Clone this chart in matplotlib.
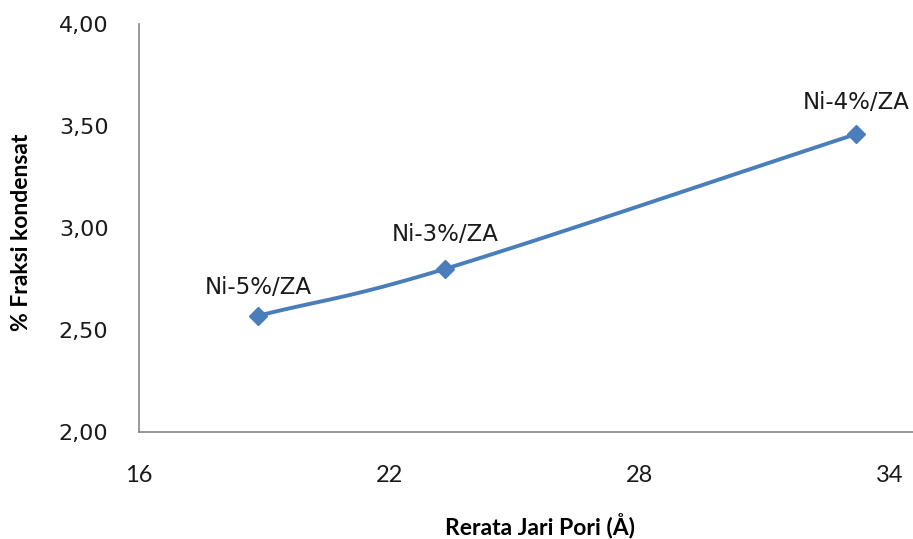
import numpy as np
import matplotlib.pyplot as plt
from matplotlib.ticker import FuncFormatter

# average pore radius vs condensate fraction
jari_pori = [18.86, 23.34, 33.18]
fraksi = [2.57, 2.80, 3.46]
katalis = ['Ni-5%/ZA', 'Ni-3%/ZA', 'Ni-4%/ZA']
label_dy = [20, 25, 23]

blue = '#4A7EBB'


def smooth(xs, ys, n=60):
    # Catmull-Rom curve through the points (Excel-style smoothed line)
    p = np.column_stack([xs, ys])
    p = np.vstack([p[0] - (p[1] - p[0]), p, p[-1] + (p[-1] - p[-2])])
    out = []
    for i in range(1, len(p) - 2):
        p0, p1, p2, p3 = p[i - 1], p[i], p[i + 1], p[i + 2]
        t = np.linspace(0, 1, n)[:, None]
        seg = 0.5 * ((2 * p1) + (-p0 + p2) * t + (2 * p0 - 5 * p1 + 4 * p2 - p3) * t ** 2
                     + (-p0 + 3 * p1 - 3 * p2 + p3) * t ** 3)
        out.append(seg)
    out = np.vstack(out)
    return out[:, 0], out[:, 1]


fig = plt.figure(figsize=(9.13, 5.39), dpi=100)
ax = fig.add_axes([0.1522, 0.1985, 0.8478, 0.757])

sx, sy = smooth(jari_pori, fraksi)
ax.plot(sx, sy, color=blue, lw=2.8, solid_capstyle='round')
ax.plot(jari_pori, fraksi, 'D', color=blue, ms=9.5)

for x, y, s, dy in zip(jari_pori, fraksi, katalis, label_dy):
    ax.annotate(s, (x, y), xytext=(0, dy), textcoords='offset points',
                ha='center', va='center', fontsize=16.5, family='DejaVu Sans',
                color='#1a1a1a')

ax.set_xlim(16, 34.55)
ax.set_ylim(2.0, 4.0)
ax.set_xticks([16, 22, 28, 34])
ax.set_yticks([2.0, 2.5, 3.0, 3.5, 4.0])
ax.yaxis.set_major_formatter(FuncFormatter(lambda v, _: f'{v:.2f}'.replace('.', ',')))

for side in ['top', 'right']:
    ax.spines[side].set_visible(False)
for side in ['left', 'bottom']:
    ax.spines[side].set_color('#868686')
    ax.spines[side].set_linewidth(1.2)

ax.tick_params(axis='y', length=0, pad=22, labelsize=16, labelcolor='#1a1a1a')
ax.tick_params(axis='x', length=0, pad=24, labelsize=17, labelcolor='#1a1a1a')
for lab in ax.get_xticklabels():
    lab.set_family(['Lato', 'DejaVu Sans'])

ax.set_xlabel('Rerata Jari Pori (Å)', fontsize=16.5, fontweight='bold',
              family=['Lato', 'DejaVu Sans'])
ax.set_ylabel('% Fraksi kondensat', fontsize=16.5, fontweight='bold',
              family=['Lato', 'DejaVu Sans'])
ax.xaxis.set_label_coords(0.518, -0.198)
ax.yaxis.set_label_coords(-0.138, 0.49)

plt.savefig('out.png', dpi=100)
